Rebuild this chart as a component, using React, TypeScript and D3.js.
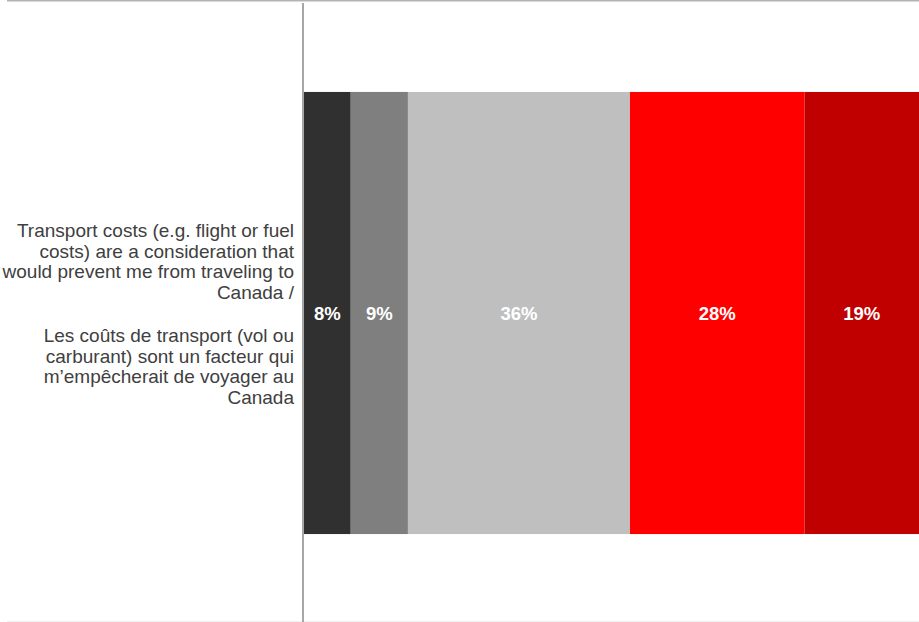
import React, { useEffect, useRef } from "react";
import * as d3 from "d3";

const W = 919;
const H = 622;

const categoryLines = [
  "Transport costs (e.g. flight or fuel",
  "costs) are a consideration that",
  "would prevent me from traveling to",
  "Canada /",
  "",
  "Les coûts de transport (vol ou",
  "carburant) sont un facteur qui",
  "m’empêcherait de voyager au",
  "Canada",
];
const seriesNames = ["s1", "s2", "s3", "s4", "s5"];
const seriesValues = [7.6, 9.3, 36.1, 28.4, 18.6];
const seriesColors = ["#303030", "#7f7f7f", "#bfbfbf", "#ff0000", "#c00000"];

export default function App() {
  const ref = useRef<SVGSVGElement>(null);

  useEffect(() => {
    const svg = d3.select(ref.current);
    svg.selectAll("*").remove();

    const x = d3.scaleLinear().domain([0, 100]).range([304, 919]);
    const y = d3.scaleBand().domain(["row"]).range([0, 626]).paddingInner(0).paddingOuter(0.208);

    // frame lines
    svg.append("line").attr("x1", 7).attr("x2", W).attr("y1", 0.5).attr("y2", 0.5)
      .attr("stroke", "#b3b3b3").attr("stroke-width", 2);
    svg.append("line").attr("x1", 7).attr("x2", W).attr("y1", 621.5).attr("y2", 621.5)
      .attr("stroke", "#efefef").attr("stroke-width", 1);

    const stacked = seriesValues.map((v, i) => {
      const start = d3.sum(seriesValues.slice(0, i));
      return { name: seriesNames[i], v, start, end: start + v, color: seriesColors[i] };
    });

    const y0 = y("row") as number;
    const bh = y.bandwidth();
    const g = svg.append("g");
    g.selectAll("rect").data(stacked).join("rect")
      .attr("x", d => x(d.start))
      .attr("width", d => x(d.end) - x(d.start))
      .attr("y", y0)
      .attr("height", bh)
      .attr("fill", d => d.color);

    g.selectAll("text").data(stacked).join("text")
      .attr("x", d => (x(d.start) + x(d.end)) / 2)
      .attr("y", y0 + bh / 2)
      .attr("dy", "0.36em")
      .attr("text-anchor", "middle")
      .attr("fill", "#ffffff")
      .attr("font-family", "'Liberation Sans', Arial, sans-serif")
      .attr("font-weight", "bold")
      .attr("font-size", 18.5)
      .text(d => Math.round(d.v) + "%");

    // axis line
    svg.append("line").attr("x1", 303).attr("x2", 303).attr("y1", 3).attr("y2", H)
      .attr("stroke", "#a6a6a6").attr("stroke-width", 2);

    // category label
    const label = svg.append("text")
      .attr("text-anchor", "end")
      .attr("fill", "#404040")
      .attr("font-family", "'Liberation Sans', Arial, sans-serif")
      .attr("font-size", 19);
    let ly = 237;
    categoryLines.forEach((line, i) => {
      if (i > 0) ly += line === "" ? 22.5 : 20.6;
      if (line === "") return;
      label.append("tspan").attr("x", 294).attr("y", ly).text(line);
    });
  }, []);

  return (
    <svg
      ref={ref}
      width={W}
      height={H}
      style={{ position: "absolute", left: 0, top: 0, display: "block", background: "#fff" }}
    />
  );
}
